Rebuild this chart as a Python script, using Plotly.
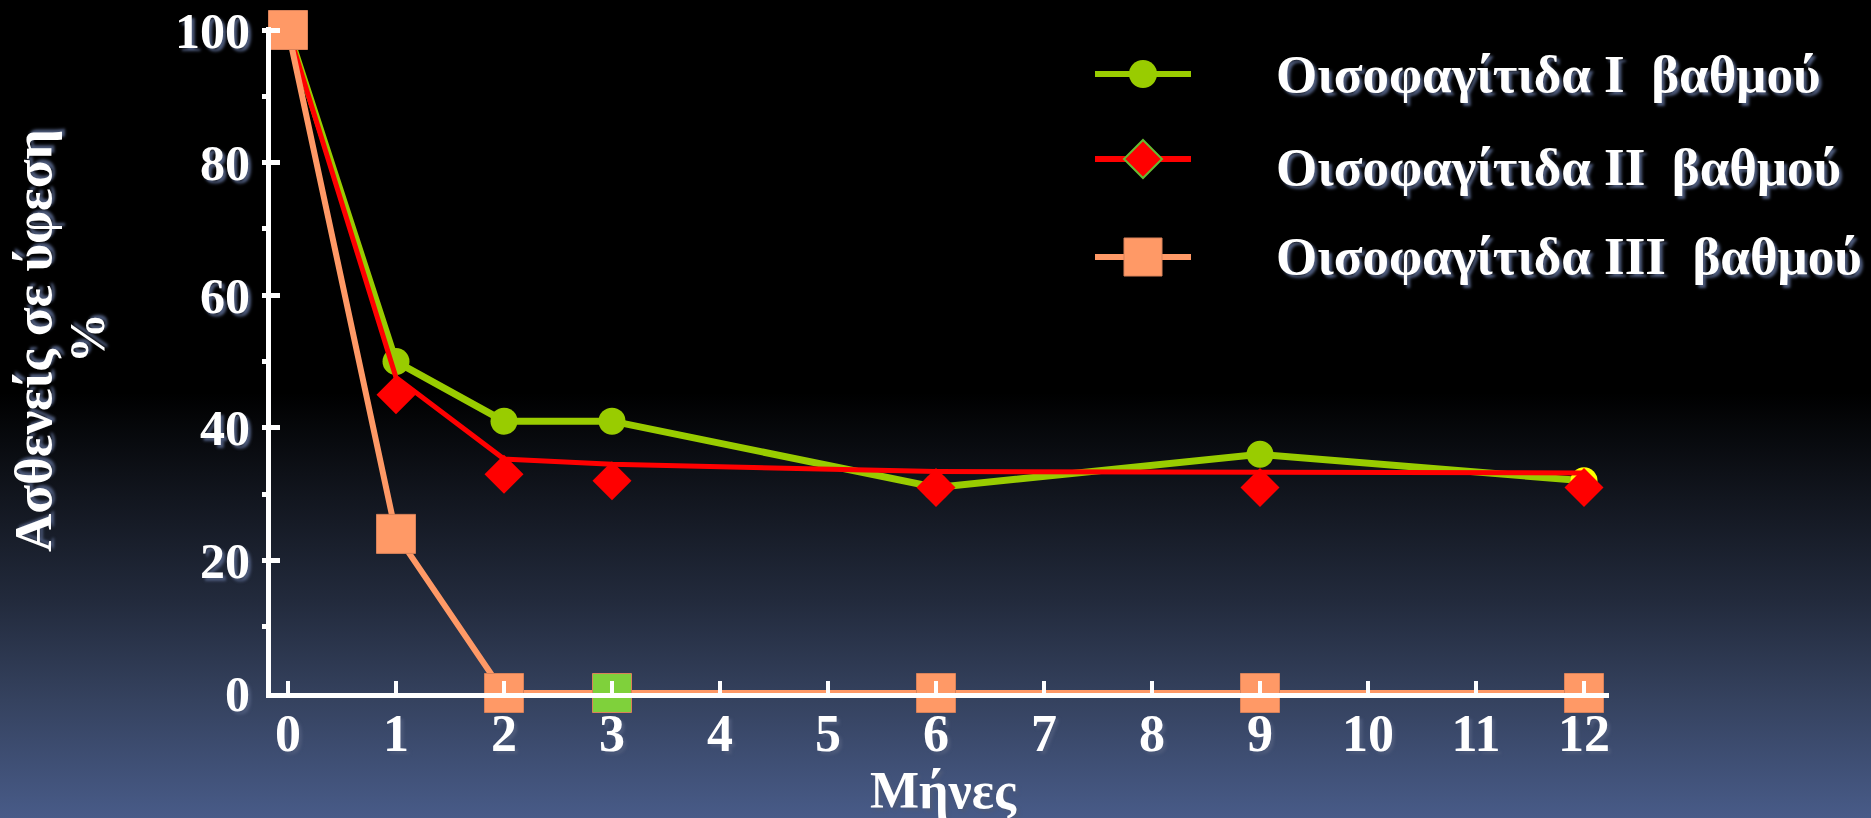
import base64
import plotly.graph_objects as go

# ---------------- data ----------------
months = [0, 1, 2, 3, 6, 9, 12]
grade1 = [100, 50, 41, 41, 31, 36, 32]
grade2_markers = [100, 45, 33, 32, 31, 31, 31]
grade2_line = [100, 47.6, 35.3, 34.5, 33.4, 33.3, 33.2]
grade3 = [100, 24, 0, 0, 0, 0, 0]

x_ticks = list(range(0, 13))
y_ticks = [0, 20, 40, 60, 80, 100]

legend_names = ["Οισοφαγίτιδα I\u00a0\u00a0βαθμού",
                "Οισοφαγίτιδα II\u00a0\u00a0βαθμού",
                "Οισοφαγίτιδα III\u00a0\u00a0βαθμού"]
y_title_1 = "Ασθενείς σε ύφεση"
y_title_2 = "%"
x_title = "Μήνες"

# ---------------- styles ----------------
GREEN = "#99CC00"
RED = "#FF0000"
ORANGE = "#FF9966"
ALT_GREEN = "#7FD13B"
YELLOW = "#FFFF00"

W, H = 1871, 818
ML, MR, MT, MB = 271, 262, 27, 125
PW = W - ML - MR
PH = H - MT - MB

FONT = "Liberation Serif"
SHADOW = "3px 3px 3px #4d5a7a"


def px_x(p):
    return (p - ML) / PW


def px_y(p):
    return (H - MB - p) / PH


g1_colors = [GREEN] * (len(months) - 1) + [YELLOW]
g3_colors = [ORANGE] * len(months)
g3_colors[3] = ALT_GREEN

fig = go.Figure()
fig.add_trace(go.Scatter(
    x=months, y=grade1, mode="lines+markers", cliponaxis=False,
    line=dict(color=GREEN, width=7),
    marker=dict(symbol="circle", size=27, color=g1_colors, line=dict(width=0)),
    showlegend=False))
fig.add_trace(go.Scatter(
    x=months, y=grade2_line, mode="lines", cliponaxis=False,
    line=dict(color=RED, width=5), showlegend=False))
fig.add_trace(go.Scatter(
    x=months, y=grade2_markers, mode="markers", cliponaxis=False,
    marker=dict(symbol="diamond", size=30, color=RED, line=dict(width=0)),
    showlegend=False))
fig.add_trace(go.Scatter(
    x=months, y=grade3, mode="lines+markers", cliponaxis=False,
    line=dict(color=ORANGE, width=6),
    marker=dict(symbol="square", size=39, color=g3_colors,
                line=dict(width=1, color="#D9825A")),
    showlegend=False))

# background gradient
svg = f'''<svg xmlns="http://www.w3.org/2000/svg" width="{W}" height="{H}" viewBox="0 0 {W} {H}" preserveAspectRatio="none">
<defs><linearGradient id="g" x1="0" y1="0" x2="0" y2="1">
<stop offset="0" stop-color="#000000"/>
<stop offset="0.48" stop-color="#000000"/>
<stop offset="0.61" stop-color="#12161f"/>
<stop offset="0.733" stop-color="#222a3c"/>
<stop offset="0.856" stop-color="#35425f"/>
<stop offset="1" stop-color="#485b88"/>
</linearGradient></defs>
<rect x="0" y="0" width="{W}" height="{H}" fill="url(#g)"/></svg>'''
uri = "data:image/svg+xml;base64," + base64.b64encode(svg.encode()).decode()

shapes = []
annotations = []

# manual legend
leg_line_y = [74, 159, 257]
leg_text_y = [74, 167, 256]
leg_colors = [GREEN, RED, ORANGE]
lx0, lx1, lcx = 1095, 1191, 1143
for i in range(3):
    ly = leg_line_y[i]
    shapes.append(dict(type="line", xref="paper", yref="paper",
                       x0=px_x(lx0), x1=px_x(lx1), y0=px_y(ly), y1=px_y(ly),
                       line=dict(color=leg_colors[i], width=6), layer="above"))
r = 14
shapes.append(dict(type="circle", xref="paper", yref="paper",
                   x0=px_x(lcx - r), x1=px_x(lcx + r),
                   y0=px_y(leg_line_y[0] + r), y1=px_y(leg_line_y[0] - r),
                   fillcolor=GREEN, line=dict(width=0), layer="above"))
d = 19
cy = leg_line_y[1]
path = (f"M{px_x(lcx)},{px_y(cy - d)} L{px_x(lcx + d)},{px_y(cy)} "
        f"L{px_x(lcx)},{px_y(cy + d)} L{px_x(lcx - d)},{px_y(cy)} Z")
shapes.append(dict(type="path", xref="paper", yref="paper", path=path,
                   fillcolor=RED, line=dict(color="#66BB33", width=2), layer="above"))
s = 19
cy = leg_line_y[2]
shapes.append(dict(type="rect", xref="paper", yref="paper",
                   x0=px_x(lcx - s), x1=px_x(lcx + s),
                   y0=px_y(cy + s), y1=px_y(cy - s),
                   fillcolor=ORANGE, line=dict(color="#D9825A", width=1), layer="above"))

for i, name in enumerate(legend_names):
    annotations.append(dict(
        text=name, xref="paper", yref="paper", x=px_x(1274), y=px_y(leg_text_y[i]),
        xanchor="left", yanchor="middle", showarrow=False,
        font=dict(family=FONT, size=53, color="white", weight=700, shadow=SHADOW)))

annotations.append(dict(
    text=y_title_1, xref="paper", yref="paper", x=px_x(33), y=px_y(341),
    xanchor="center", yanchor="middle", textangle=-90, showarrow=False,
    font=dict(family=FONT, size=53, color="white", weight=700, shadow=SHADOW)))
annotations.append(dict(
    text=y_title_2, xref="paper", yref="paper", x=px_x(87), y=px_y(338),
    xanchor="center", yanchor="middle", textangle=-90, showarrow=False,
    font=dict(family=FONT, size=50, color="white", weight=700, shadow=SHADOW)))
annotations.append(dict(
    text=x_title, xref="paper", yref="paper", x=px_x(943), y=px_y(790),
    xanchor="center", yanchor="middle", showarrow=False,
    font=dict(family=FONT, size=52, color="white", weight=700, shadow=SHADOW)))

x_min = -(288 - ML) / 108.0
x_max = x_min + PW / 108.0
y_max = PH / 6.63

fig.update_layout(
    template="none",
    width=W, height=H, autosize=False,
    margin=dict(l=ML, r=MR, t=MT, b=MB, pad=0, autoexpand=False),
    paper_bgcolor="#000000", plot_bgcolor="rgba(0,0,0,0)",
    showlegend=False,
    images=[dict(source=uri, xref="paper", yref="paper",
                 x=px_x(0), y=px_y(0), sizex=W / PW, sizey=H / PH,
                 xanchor="left", yanchor="top", sizing="stretch", layer="below")],
    shapes=shapes, annotations=annotations,
    xaxis=dict(range=[x_min, x_max], tickmode="array", tickvals=x_ticks,
               ticktext=[str(v) for v in x_ticks], automargin=False,
               showline=True, linecolor="white", linewidth=5,
               ticks="inside", ticklen=12, tickwidth=4, tickcolor="white",
               showgrid=False, zeroline=False, layer="above traces",
               ticklabelstandoff=-9,
               tickfont=dict(family=FONT, size=52, color="white", weight=700, shadow=SHADOW)),
    yaxis=dict(range=[0, y_max], tickmode="array", tickvals=y_ticks,
               ticktext=[str(v) for v in y_ticks], automargin=False,
               showline=True, linecolor="white", linewidth=5,
               ticks="inside", ticklen=9, tickwidth=5, tickcolor="white",
               minor=dict(ticks="outside", dtick=10, tick0=0, ticklen=4,
                          tickwidth=5, tickcolor="white", showgrid=False),
               showgrid=False, zeroline=False, layer="above traces",
               ticklabelstandoff=6,
               tickfont=dict(family=FONT, size=50, color="white", weight=700, shadow=SHADOW)),
)

fig.write_html(
    "out.html",
    config={"displayModeBar": False},
    post_script="document.body.style.margin='0';document.body.style.overflow='hidden';",
)
